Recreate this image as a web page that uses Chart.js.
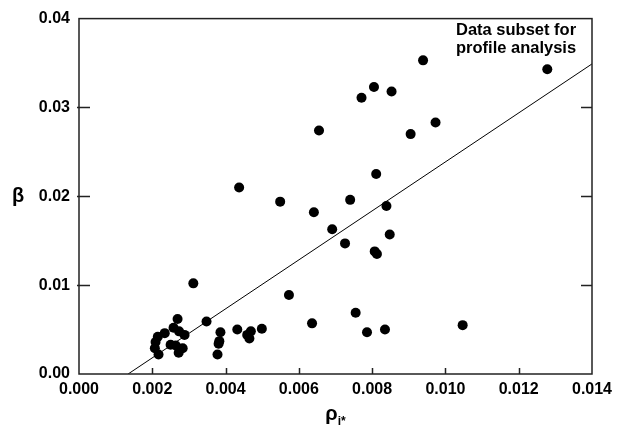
<!DOCTYPE html>
<html>
<head>
<meta charset="utf-8">
<script src="https://cdn.jsdelivr.net/npm/chart.js@4/dist/chart.umd.min.js"></script>
<style>
  html, body { margin: 0; padding: 0; background: #fff; }
  canvas { display: block; }
</style>
</head>
<body>
<canvas id="betaChart" width="619" height="439"></canvas>
<script>
// values
const rhoValues = [
  0.00939, 0.01278, 0.00805, 0.00771, 0.00853, 0.00655, 0.00973, 0.00905,
  0.00437, 0.00549, 0.00641, 0.00691, 0.00312, 0.00573, 0.00811, 0.00740,
  0.00839, 0.00726, 0.00848, 0.00807, 0.00813, 0.00755, 0.00636, 0.00786,
  0.00835, 0.01047, 0.00348, 0.00386, 0.00383, 0.00381, 0.00378, 0.00432,
  0.00459, 0.00469, 0.00465, 0.00499, 0.00269, 0.00258, 0.00273, 0.00288,
  0.00234, 0.00215, 0.00209, 0.00207, 0.00264, 0.00283, 0.00272, 0.00217,
  0.00250
];
const betaValues = [
  0.0353, 0.0343, 0.0323, 0.0311, 0.0318, 0.0274, 0.0283, 0.0270,
  0.0210, 0.0194, 0.0182, 0.0163, 0.0102, 0.0089, 0.0225, 0.0196,
  0.0189, 0.0147, 0.0157, 0.0138, 0.0135, 0.0069, 0.0057, 0.0047,
  0.0050, 0.0055, 0.0059, 0.0047, 0.0037, 0.0034, 0.0022, 0.0050,
  0.0044, 0.0048, 0.0040, 0.0051, 0.0062, 0.0052, 0.0048, 0.0044,
  0.0046, 0.0042, 0.0036, 0.0029, 0.0032, 0.0029, 0.0024, 0.0022,
  0.0033
];
// fitted line end points
const fitRho = [0.00134, 0.014];
const fitBeta = [0.0, 0.0349];

const xTicks = [0, 0.002, 0.004, 0.006, 0.008, 0.010, 0.012, 0.014];
const yTicks = [0, 0.01, 0.02, 0.03, 0.04];
const noteLines = ['Data subset for', 'profile analysis'];

const FONT = "'Liberation Sans', Arial, sans-serif";

const points = rhoValues.map((x, i) => ({ x: x, y: betaValues[i] }));
const fitLine = fitRho.map((x, i) => ({ x: x, y: fitBeta[i] }));

// frame, inward ticks, axis titles and the note
const framePlugin = {
  id: 'frame',
  afterDraw(chart) {
    const ctx = chart.ctx;
    const a = chart.chartArea;
    const xs = chart.scales.x, ys = chart.scales.y;
    ctx.save();
    ctx.strokeStyle = '#222';
    ctx.lineWidth = 1.5;
    ctx.strokeRect(a.left, a.top, a.right - a.left, a.bottom - a.top);

    ctx.beginPath();
    yTicks.slice(1, -1).forEach(v => {
      const py = Math.round(ys.getPixelForValue(v)) + 0.5;
      ctx.moveTo(a.left - 2, py); ctx.lineTo(a.left + 11, py);
      ctx.moveTo(a.right - 11, py); ctx.lineTo(a.right, py);
    });
    xTicks.slice(1, -1).forEach(v => {
      const px = Math.round(xs.getPixelForValue(v)) + 0.5;
      ctx.moveTo(px, a.bottom); ctx.lineTo(px, a.bottom - 6);
    });
    ctx.stroke();

    ctx.fillStyle = '#000';
    // y title
    ctx.font = 'bold 20px ' + FONT;
    ctx.textAlign = 'center';
    ctx.textBaseline = 'middle';
    ctx.fillText('β', 18, ys.getPixelForValue(0.02));

    // x title with subscript
    const cx = (a.left + a.right) / 2;
    ctx.textAlign = 'left';
    ctx.textBaseline = 'alphabetic';
    ctx.font = 'bold 20px ' + FONT;
    const wRho = ctx.measureText('ρ').width;
    ctx.font = 'bold 12px ' + FONT;
    const wSub = ctx.measureText('i*').width;
    const startX = cx - (wRho + wSub) / 2;
    ctx.font = 'bold 20px ' + FONT;
    ctx.fillText('ρ', startX, 420);
    ctx.font = 'bold 12px ' + FONT;
    ctx.fillText('i*', startX + wRho, 425);

    // note
    ctx.font = 'bold 16.5px ' + FONT;
    ctx.textBaseline = 'middle';
    noteLines.forEach((t, i) => ctx.fillText(t, 456, 30 + i * 18));
    ctx.restore();
  }
};

new Chart(document.getElementById('betaChart'), {
  type: 'scatter',
  data: {
    datasets: [
      {
        label: 'data',
        data: points,
        backgroundColor: '#000',
        borderWidth: 0,
        pointRadius: 5,
        pointHoverRadius: 5
      },
      {
        label: 'fit',
        data: fitLine,
        showLine: true,
        borderColor: '#000',
        borderWidth: 1,
        pointRadius: 0,
        fill: false
      }
    ]
  },
  options: {
    responsive: false,
    devicePixelRatio: 1,
    animation: false,
    layout: { padding: { top: 14, right: 27, left: 0, bottom: 0 } },
    plugins: { legend: { display: false }, tooltip: { enabled: false } },
    scales: {
      x: {
        type: 'linear',
        min: 0,
        max: 0.014,
        afterBuildTicks: s => { s.ticks = xTicks.map(v => ({ value: v })); },
        afterFit: s => { s.height = 65; },
        ticks: {
          callback: v => Number(v).toFixed(3),
          font: { family: FONT, size: 16, weight: 'bold' },
          color: '#000',
          padding: 6,
          maxRotation: 0,
          autoSkip: false
        },
        grid: { display: false, drawTicks: false },
        border: { display: false }
      },
      y: {
        type: 'linear',
        min: 0,
        max: 0.04,
        afterBuildTicks: s => { s.ticks = yTicks.map(v => ({ value: v })); },
        afterFit: s => { s.width = 79; },
        ticks: {
          callback: v => Number(v).toFixed(2),
          font: { family: FONT, size: 16, weight: 'bold' },
          color: '#000',
          padding: 9
        },
        grid: { display: false, drawTicks: false },
        border: { display: false }
      }
    }
  },
  plugins: [framePlugin]
});
</script>
</body>
</html>
